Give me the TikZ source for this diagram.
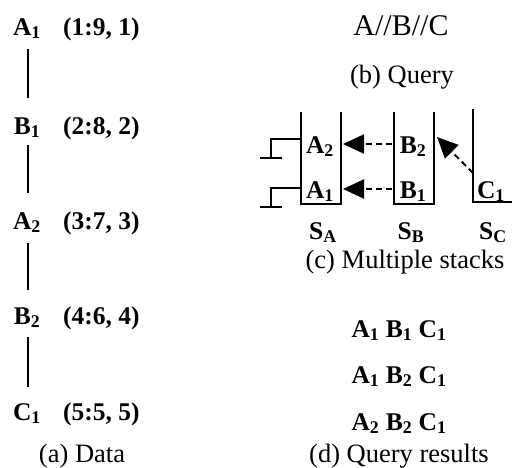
\documentclass[tikz,border=0pt]{standalone}
\usepackage{fontspec}
\setmainfont{Liberation Serif}
\usetikzlibrary{arrows.meta}
\tikzset{
  txt/.style={inner sep=0pt, anchor=base, font=\fontsize{26.5}{30}\selectfont},
  btxt/.style={txt, font=\fontsize{25.5}{30}\selectfont\bfseries},
  wall/.style={line width=2pt},
  link/.style={line width=2pt},
  ptr/.style={line width=2pt, dash pattern=on 6pt off 4pt, -{Triangle[length=21pt,width=19pt]}},
}
\newcommand{\sub}[1]{\textsubscript{#1}}
\begin{document}
\begin{tikzpicture}[x=1pt,y=-1pt]
\useasboundingbox (0,0) rectangle (512,467);
% (a) Data
\node[btxt] (a1) at (27,35) {A\sub{1}};
\node[btxt] (b1) at (27,134) {B\sub{1}};
\node[btxt] (a2) at (27,229) {A\sub{2}};
\node[btxt] (b2) at (27,324) {B\sub{2}};
\node[btxt] (c1) at (27,420) {C\sub{1}};
\node[btxt, anchor=base west] (la1) at (63,35) {(1:9, 1)};
\node[btxt, anchor=base west] (lb1) at (63,134) {(2:8, 2)};
\node[btxt, anchor=base west] (la2) at (63,229) {(3:7, 3)};
\node[btxt, anchor=base west] (lb2) at (63,324) {(4:6, 4)};
\node[btxt, anchor=base west] (lc1) at (63,420) {(5:5, 5)};
\draw[link] ([xshift=0.5pt,yshift=-14pt]a1.base) -- ([xshift=0.5pt,yshift=36pt]b1.base);
\draw[link] ([xshift=0.5pt,yshift=-11pt]b1.base) -- ([xshift=0.5pt,yshift=36pt]a2.base);
\draw[link] ([xshift=0.5pt,yshift=-14pt]a2.base) -- ([xshift=0.5pt,yshift=34pt]b2.base);
\draw[link] ([xshift=0.5pt,yshift=-13pt]b2.base) -- ([xshift=0.5pt,yshift=33pt]c1.base);
\node[txt] (capa) at (82,462) {(a) Data};
% (b) Query
\node[txt, font=\fontsize{30}{34}\selectfont] (q) at (401,35) {A//B//C};
\node[txt] (capb) at (402,83) {(b) Query};
% (c) stacks
\draw[wall] (301,112) -- (301,204) -- (341,204) -- (341,112);
\draw[wall] (394,112) -- (394,204) -- (434,204) -- (434,112);
\draw[wall] (473,109) -- (473,202) -- (512,202);
\draw[wall] (301,139) -- (271,139) -- (271,158);
\draw[wall] (260,158) -- (282,158);
\draw[wall] (301,188) -- (271,188) -- (271,207);
\draw[wall] (260,207) -- (282,207);
\node[btxt] (sa2) at (320,153) {A\sub{2}};
\node[btxt] (sa1) at (320,198) {A\sub{1}};
\node[btxt] (sb2) at (413,153) {B\sub{2}};
\node[btxt] (sb1) at (413,198) {B\sub{1}};
\node[btxt] (sc1) at (491,198) {C\sub{1}};
\coordinate (ta2) at (343,144);
\coordinate (ta1) at (343,189);
\coordinate (tb2) at (437,137);
\draw[ptr] (392,144) -- (ta2);
\draw[ptr] (392,189) -- (ta1);
\draw[ptr] (473,173) -- (tb2);
\node[btxt] (lsa) at (323,239) {S\sub{A}};
\node[btxt] (lsb) at (411,239) {S\sub{B}};
\node[btxt] (lsc) at (493,239) {S\sub{C}};
\node[txt] (capc) at (405,268) {(c) Multiple stacks};
% (d) results
\node[btxt] (r1) at (399,337) {A\sub{1} B\sub{1} C\sub{1}};
\node[btxt] (r2) at (399,383) {A\sub{1} B\sub{2} C\sub{1}};
\node[btxt] (r3) at (399,430) {A\sub{2} B\sub{2} C\sub{1}};
\node[txt] (capd) at (399,462) {(d) Query results};
\end{tikzpicture}
\end{document}
